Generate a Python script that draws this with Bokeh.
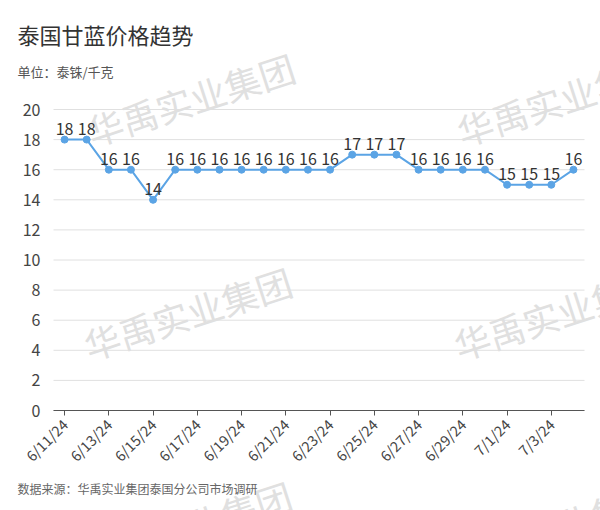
import math
from bokeh.plotting import figure
from bokeh.models import Range1d, FixedTicker, Label, ColumnDataSource, LinearAxis
from bokeh.core.properties import value
from bokeh.embed import file_html
from bokeh.resources import INLINE

dates = ["6/11/24", "6/12/24", "6/13/24", "6/14/24", "6/15/24", "6/16/24",
         "6/17/24", "6/18/24", "6/19/24", "6/20/24", "6/21/24", "6/22/24",
         "6/23/24", "6/24/24", "6/25/24", "6/26/24", "6/27/24", "6/28/24",
         "6/29/24", "6/30/24", "7/1/24", "7/2/24", "7/3/24", "7/4/24"]
prices = [18, 18, 16, 16, 14, 16, 16, 16, 16, 16, 16, 16,
          16, 17, 17, 17, 16, 16, 16, 16, 15, 15, 15, 16]
y_ticks = [0, 2, 4, 6, 8, 10, 12, 14, 16, 18, 20]

title_text = "泰国甘蓝价格趋势"
unit_text = "单位：泰铢/千克"
source_text = "数据来源：华禹实业集团泰国分公司市场调研"
watermark = "华禹实业集团"

FONT = "Noto Sans CJK SC"
W, H = 600, 510

# layout of the plotting area inside the canvas (pixels)
PL, PR, PT, PB = 53, 584, 109, 410
n = len(dates)
x_lo, x_hi = -0.5, n - 0.5
y_lo, y_hi = 0, 20
sx = (PR - PL) / (x_hi - x_lo)
sy = (PB - PT) / (y_hi - y_lo)
x_range = Range1d(x_lo - PL / sx, x_hi + (W - PR) / sx)
y_range = Range1d(y_lo - (H - PB) / sy, y_hi + PT / sy)

idx = list(range(n))
src = ColumnDataSource(dict(x=idx, y=prices, lbl=[str(v) for v in prices]))

p = figure(width=W, height=H, output_backend="svg", toolbar_location=None,
           x_range=x_range, y_range=y_range,
           x_axis_location=None, y_axis_location=None, min_border=0)
p.outline_line_color = None
p.background_fill_color = "white"
p.border_fill_color = "white"
p.xgrid.visible = False
p.ygrid.visible = False

# watermarks (canvas coordinates, y from top)
wm_pos = [(190, 98), (560, 98), (187, 312), (557, 312), (187, 526), (557, 526)]
for (cx, cy) in wm_pos:
    p.add_layout(Label(x=cx, y=cy, x_units="canvas", y_units="canvas",
                       text=watermark, angle=math.radians(18),
                       text_align="center", text_baseline="middle",
                       text_font=FONT, text_font_size="36px",
                       text_color="#e0e0e0", level="underlay"))

# horizontal grid lines at the y ticks, spanning the plotting area
p.segment(x0=[x_lo] * len(y_ticks), x1=[x_hi] * len(y_ticks),
          y0=y_ticks, y1=y_ticks, line_color="#e0e0e0", line_width=1,
          level="underlay")

# y axis
yax = LinearAxis(fixed_location=x_lo, ticker=FixedTicker(ticks=y_ticks),
                 bounds=(y_lo, y_hi))
yax.axis_line_color = None
yax.major_tick_line_color = None
yax.minor_tick_line_color = None
yax.major_label_text_font = FONT
yax.major_label_text_font_size = "16px"
yax.major_label_text_color = "#444444"
yax.major_label_standoff = 7
p.add_layout(yax, "left")

# x axis
xax = LinearAxis(fixed_location=y_lo, ticker=FixedTicker(ticks=idx[::2]),
                 bounds=(x_lo, x_hi))
xax.major_label_overrides = {i: dates[i] for i in idx[::2]}
xax.axis_line_color = "#555555"
xax.major_tick_line_color = "#555555"
xax.major_tick_out = 5
xax.major_tick_in = 0
xax.minor_tick_line_color = None
xax.major_label_orientation = math.pi / 4
xax.major_label_text_font = FONT
xax.major_label_text_font_size = "14.5px"
xax.major_label_text_color = "#444444"
xax.major_label_standoff = 6
p.add_layout(xax, "below")

p.line("x", "y", source=src, line_color="#5ba4e5", line_width=2)
p.scatter("x", "y", source=src, size=7, fill_color="#5ba4e5",
          line_color="#5ba4e5")
p.text("x", "y", text="lbl", source=src, text_align="center",
       text_baseline="bottom", y_offset=-5, text_font=value(FONT),
       text_font_size="16px", text_color="#333333")

# titles
p.add_layout(Label(x=17, y=33, x_units="canvas", y_units="canvas",
                   text=title_text, text_align="left", text_baseline="middle",
                   text_font=FONT, text_font_size="22px", text_color="#333333"))
p.add_layout(Label(x=17, y=71, x_units="canvas", y_units="canvas",
                   text=unit_text, text_align="left", text_baseline="middle",
                   text_font=FONT, text_font_size="13px", text_color="#555555"))
p.add_layout(Label(x=17, y=488, x_units="canvas", y_units="canvas",
                   text=source_text, text_align="left", text_baseline="middle",
                   text_font=FONT, text_font_size="12px", text_color="#666666"))

open("out.html", "w").write(file_html(p, INLINE))
